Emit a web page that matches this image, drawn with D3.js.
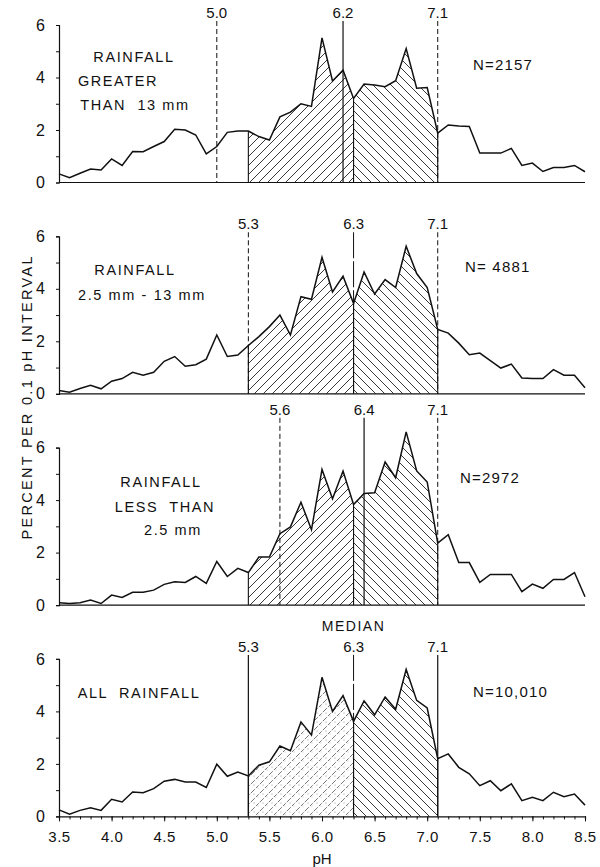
<!DOCTYPE html>
<html>
<head>
<meta charset="utf-8">
<script src="https://cdn.jsdelivr.net/npm/d3@7"></script>
<style>
  body { margin: 0; background: #fff; }
  svg { display: block; }
  text { font-family: "Liberation Sans", Arial, sans-serif; fill: #111; }
</style>
</head>
<body>
<svg id="canvas" width="600" height="867"></svg>
<script>
// pH bins (0.1 wide)
const phBins = [3.5, 3.6, 3.7, 3.8, 3.9, 4.0, 4.1, 4.2, 4.3, 4.4, 4.5, 4.6, 4.7, 4.8, 4.9,
    5.0, 5.1, 5.2, 5.3, 5.4, 5.5, 5.6, 5.7, 5.8, 5.9, 6.0, 6.1, 6.2, 6.3, 6.4, 6.5, 6.6,
    6.7, 6.8, 6.9, 7.0, 7.1, 7.2, 7.3, 7.4, 7.5, 7.6, 7.7, 7.8, 7.9, 8.0, 8.1, 8.2, 8.3,
    8.4, 8.5];

// percent per 0.1 pH interval
const rainOver13 = [0.33, 0.18, 0.35, 0.51, 0.48, 0.9, 0.65, 1.18, 1.17, 1.37, 1.56, 2.03, 2.0,
    1.81, 1.09, 1.37, 1.91, 1.96, 1.96, 1.75, 1.62, 2.5, 2.68, 3.0, 2.9, 5.51, 3.87, 4.28, 3.2,
    3.75, 3.71, 3.65, 3.88, 5.1, 3.59, 3.62, 1.88, 2.19, 2.15, 2.13, 1.12, 1.12, 1.12, 1.3,
    0.65, 0.74, 0.42, 0.57, 0.57, 0.65, 0.41];
const rain25to13 = [0.13, 0.06, 0.2, 0.32, 0.19, 0.48, 0.58, 0.82, 0.71, 0.82, 1.24, 1.42, 1.05,
    1.11, 1.32, 2.24, 1.42, 1.48, 1.84, 2.18, 2.56, 3.0, 2.24, 3.7, 3.6, 5.2, 3.88, 4.48, 3.44,
    4.64, 3.8, 4.35, 4.05, 5.62, 4.58, 4.05, 2.45, 2.31, 1.93, 1.49, 1.55, 1.26, 0.98, 1.13,
    0.6, 0.58, 0.58, 0.92, 0.71, 0.71, 0.23];
const rainUnder25 = [0.09, 0.06, 0.09, 0.19, 0.06, 0.38, 0.29, 0.49, 0.49, 0.57, 0.79, 0.89, 0.86,
    1.09, 0.83, 1.66, 1.09, 1.4, 1.24, 1.83, 1.83, 2.72, 2.98, 3.92, 2.87, 5.17, 4.05, 5.11, 3.83,
    4.25, 4.28, 5.45, 4.85, 6.6, 5.11, 4.69, 2.36, 2.68, 1.62, 1.62, 0.87, 1.17, 1.17, 1.17,
    0.51, 0.8, 0.64, 0.98, 0.98, 1.24, 0.32];
const rainAll = [0.25, 0.08, 0.23, 0.33, 0.23, 0.65, 0.55, 0.93, 0.9, 1.06, 1.34, 1.41, 1.31,
    1.31, 1.1, 1.99, 1.53, 1.69, 1.54, 1.95, 2.08, 2.68, 2.5, 3.6, 3.1, 5.3, 4.0, 4.6, 3.62,
    4.4, 3.87, 4.55, 4.08, 5.6, 4.42, 4.13, 2.2, 2.38, 1.87, 1.62, 1.17, 1.36, 0.98, 1.24,
    0.6, 0.73, 0.6, 0.92, 0.75, 0.85, 0.43];

const series = [rainOver13, rain25to13, rainUnder25, rainAll];
const panelTitles = [
    ["RAINFALL", "GREATER", "THAN  13 mm"],
    ["RAINFALL", "2.5 mm - 13 mm"],
    ["RAINFALL", "LESS  THAN", "2.5 mm"],
    ["ALL  RAINFALL"]
];
const sampleSizes = ["N=2157", "N= 4881", "N=2972", "N=10,010"];
const lowerQuartile = [5.0, 5.3, 5.6, 5.3];
const medians = [6.2, 6.3, 6.4, 6.3];
const upperQuartile = [7.1, 7.1, 7.1, 7.1];
// shaded band = quartiles of all rainfall
const bandEdges = [5.3, 6.3, 7.1];
const yTicks = [0, 1, 2, 3, 4, 5, 6];
const xLabelTicks = [3.5, 4.0, 4.5, 5.0, 5.5, 6.0, 6.5, 7.0, 7.5, 8.0, 8.5];

const svg = d3.select("#canvas");
const x = d3.scaleLinear().domain([3.5, 8.5]).range([59, 585]);
const panelTop = i => 25 + i * 211.3;
const panelH = 157.5;
const FONT = "Liberation Sans, Arial, sans-serif";

// hatch patterns
const defs = svg.append("defs");
function hatch(id, d, color, w, dash) {
    defs.append("pattern")
        .attr("id", id)
        .attr("patternUnits", "userSpaceOnUse")
        .attr("width", 9).attr("height", 9)
        .append("path")
        .attr("d", d)
        .attr("stroke", color)
        .attr("stroke-width", w)
        .attr("stroke-dasharray", dash || null)
        .attr("fill", "none");
}
hatch("hatchUp", "M-2,2 l4,-4 M0,9 l9,-9 M7,11 l4,-4", "#222", 0.9);
hatch("hatchDown", "M-2,7 l4,4 M0,0 l9,9 M7,-2 l4,4", "#222", 0.9);
// lighter, stippled version for the all-rainfall lower half
hatch("hatchLight", "M-2,2 l4,-4 M0,9 l9,-9 M7,11 l4,-4", "#555", 0.8, "4,1.5");
const light = defs.select("#hatchLight");
light.append("circle").attr("cx", 2).attr("cy", 2).attr("r", 0.5).attr("fill", "#777");
light.append("circle").attr("cx", 6).attr("cy", 5).attr("r", 0.45).attr("fill", "#888");

const titleOffsets = [[37, 61, 85], [39, 64], [39, 64, 87], [39]];
const titleXs = [[134, 118, 135], [135, 142], [161, 165, 173], [139]];
const nOffsets = [45, 36, 35, 38];
const nXs = [473, 465, 460, 473];

series.forEach((vals, i) => {
    const top = panelTop(i);
    const y = d3.scaleLinear().domain([0, 6]).range([top + panelH, top]);
    const g = svg.append("g");
    const pts = phBins.map((p, k) => ({ph: p, v: vals[k]}));
    const near = (a, b) => Math.abs(a - b) < 1e-6;
    const between = (lo, hi) => pts.filter(d => d.ph > lo - 1e-6 && d.ph < hi + 1e-6);

    const area = d3.area().x(d => x(d.ph)).y0(y(0)).y1(d => y(d.v));
    g.append("path").datum(between(bandEdges[0], bandEdges[1]))
        .attr("d", area)
        .attr("fill", i === 3 ? "url(#hatchLight)" : "url(#hatchUp)");
    g.append("path").datum(between(bandEdges[1], bandEdges[2]))
        .attr("d", area)
        .attr("fill", "url(#hatchDown)");

    // vertical edges of the shaded band
    bandEdges.forEach(e => {
        const d = pts.find(p => near(p.ph, e));
        g.append("line")
            .attr("x1", x(e)).attr("x2", x(e))
            .attr("y1", y(0)).attr("y2", y(d.v))
            .attr("stroke", "#111").attr("stroke-width", 1.1);
    });

    // the distribution curve
    g.append("path").datum(pts)
        .attr("d", d3.line().x(d => x(d.ph)).y(d => y(d.v)))
        .attr("fill", "none")
        .attr("stroke", "#111")
        .attr("stroke-width", 1.5)
        .attr("stroke-linejoin", "miter");

    // quartile / median markers
    const maxV = d3.max(vals);
    const labelBase = Math.min(y(6) - 7, y(maxV) - 17);
    const marks = [
        {ph: lowerQuartile[i], dashed: i !== 3},
        {ph: medians[i], dashed: i === 1 || i === 3, long: true},
        {ph: upperQuartile[i], dashed: i !== 3}
    ];
    marks.forEach(m => {
        g.append("line")
            .attr("x1", x(m.ph)).attr("x2", x(m.ph))
            .attr("y1", labelBase + 3).attr("y2", y(0))
            .attr("stroke", "#111")
            .attr("stroke-width", m.dashed ? 1 : 1.2)
            .attr("stroke-dasharray", m.dashed ? (m.long ? "26,3" : "5,3") : null);
        g.append("text")
            .attr("x", x(m.ph)).attr("y", labelBase)
            .attr("text-anchor", "middle")
            .attr("font-size", 15)
            .text(d3.format(".1f")(m.ph));
    });
    if (i === 3) {
        g.append("text")
            .attr("x", x(medians[i])).attr("y", labelBase - 21)
            .attr("text-anchor", "middle")
            .attr("font-size", 14)
            .attr("letter-spacing", 1.5)
            .text("MEDIAN");
    }

    // y axis
    const yAxis = d3.axisLeft(y)
        .tickValues(yTicks)
        .tickSize(3)
        .tickPadding(11)
        .tickFormat(v => v % 2 === 0 ? v : "");
    const ya = g.append("g").attr("transform", `translate(${x(3.5)},0)`).call(yAxis);
    ya.select(".domain").attr("stroke", "#111").attr("stroke-width", 1.2);
    ya.selectAll("line").attr("stroke", "#111");
    ya.selectAll("text").attr("font-size", 16).attr("font-family", FONT).attr("fill", "#111");

    // baseline / x axis
    if (i < 3) {
        g.append("line")
            .attr("x1", x(3.5)).attr("x2", x(8.5))
            .attr("y1", y(0)).attr("y2", y(0))
            .attr("stroke", "#111").attr("stroke-width", 1.2);
    } else {
        const xa = g.append("g").attr("transform", `translate(0,${y(0)})`)
            .call(d3.axisBottom(x).tickValues(phBins).tickSize(3).tickFormat(""));
        xa.select(".domain").attr("stroke", "#111").attr("stroke-width", 1.2);
        xa.selectAll("line").attr("stroke", "#111");
        const xb = g.append("g").attr("transform", `translate(0,${y(0)})`)
            .call(d3.axisBottom(x).tickValues(xLabelTicks).tickSize(5).tickPadding(10)
                .tickFormat(d3.format(".1f")));
        xb.select(".domain").remove();
        xb.selectAll("line").attr("stroke", "#111");
        xb.selectAll("text").attr("font-size", 15).attr("font-family", FONT)
            .attr("letter-spacing", 0.5).attr("fill", "#111");
        g.append("text")
            .attr("x", x(6.0)).attr("y", y(0) + 48)
            .attr("text-anchor", "middle")
            .attr("font-size", 15)
            .text("pH");
    }

    // panel text
    panelTitles[i].forEach((t, k) => {
        g.append("text")
            .attr("x", titleXs[i][k]).attr("y", top + titleOffsets[i][k])
            .attr("text-anchor", "middle")
            .attr("font-size", 14.5)
            .attr("letter-spacing", 1.6)
            .style("white-space", "pre")
            .text(t);
    });
    g.append("text")
        .attr("x", nXs[i]).attr("y", top + nOffsets[i])
        .attr("font-size", 15)
        .attr("letter-spacing", 1.2)
        .text(sampleSizes[i]);
});

svg.append("text")
    .attr("transform", "translate(32,398) rotate(-90)")
    .attr("text-anchor", "middle")
    .attr("font-size", 14.5)
    .attr("textLength", 283)
    .attr("lengthAdjust", "spacing")
    .text("PERCENT PER 0.1 pH INTERVAL");
</script>
</body>
</html>
